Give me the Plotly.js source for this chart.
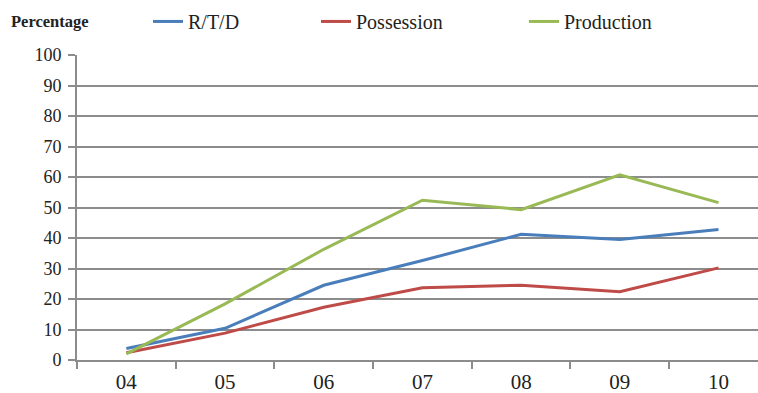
<!DOCTYPE html>
<html>
<head>
<meta charset="utf-8">
<script src="https://cdn.plot.ly/plotly-3.0.1.min.js"></script>
<style>html,body{margin:0;padding:0;background:#fff}#chart{width:758px;height:393px}</style>
</head>
<body>
<div id="chart"></div>
<script>
var years = ["04", "05", "06", "07", "08", "09", "10"];
var rtd = [3.8, 10.4, 24.5, 32.6, 41.2, 39.5, 42.8];
var possession = [2.4, 8.8, 17.3, 23.7, 24.5, 22.4, 30.2];
var production = [2.0, 18.4, 36.3, 52.4, 49.3, 60.7, 51.6];
var seriesNames = ["R/T/D", "Possession", "Production"];
var seriesColors = ["#4a7ebb", "#be4b48", "#98b954"];
var yTicks = [0, 10, 20, 30, 40, 50, 60, 70, 80, 90, 100];

var font = "Liberation Serif, Times New Roman, serif";
var W = 681, L = 77;
function px(x) { return (x - L) / W; }

var data = [rtd, possession, production].map(function (vals, i) {
  return {
    x: years, y: vals, type: "scatter", mode: "lines",
    name: seriesNames[i],
    line: { color: seriesColors[i], width: 3 },
    legend: i === 0 ? "legend" : "legend" + (i + 1)
  };
});

function leg(x) {
  return {
    x: px(x), xanchor: "left", y: 1.11, yanchor: "middle",
    orientation: "h", bgcolor: "rgba(0,0,0,0)", borderwidth: 0,
    font: { family: font, size: 20, color: "#222" },
    itemwidth: 30, tracegroupgap: 0
  };
}

var layout = {
  width: 758, height: 393,
  margin: { l: L, r: 0, t: 55, b: 33, pad: 0 },
  paper_bgcolor: "#fff", plot_bgcolor: "#fff",
  showlegend: true,
  legend: leg(148),
  legend2: leg(316),
  legend3: leg(524),
  xaxis: {
    type: "category", range: [-0.5, 6.4],
    showgrid: false, showline: true, linecolor: "#8c8c8c", linewidth: 2,
    ticks: "outside", tickson: "boundaries", ticklen: 7, tickcolor: "#8c8c8c", tickwidth: 2,
    tickfont: { family: font, size: 21, color: "#222" },
    ticklabelstandoff: 2,
    zeroline: false, fixedrange: true
  },
  yaxis: {
    range: [0, 100], tickvals: yTicks, ticktext: yTicks.map(String),
    showgrid: true, gridcolor: "#8c8c8c", gridwidth: 2,
    showline: true, linecolor: "#8c8c8c", linewidth: 2,
    ticks: "outside", ticklen: 7, tickcolor: "#8c8c8c", tickwidth: 2,
    tickfont: { family: font, size: 18, color: "#222" },
    ticklabelstandoff: 3,
    zeroline: false, fixedrange: true
  },
  annotations: [{
    text: "<b>Percentage</b>", xref: "paper", yref: "paper",
    x: px(9), xanchor: "left", y: 1.11, yanchor: "middle",
    showarrow: false, font: { family: font, size: 16.5, color: "#222" }
  }]
};

Plotly.newPlot("chart", data, layout, { displayModeBar: false, staticPlot: true });
</script>
</body>
</html>
